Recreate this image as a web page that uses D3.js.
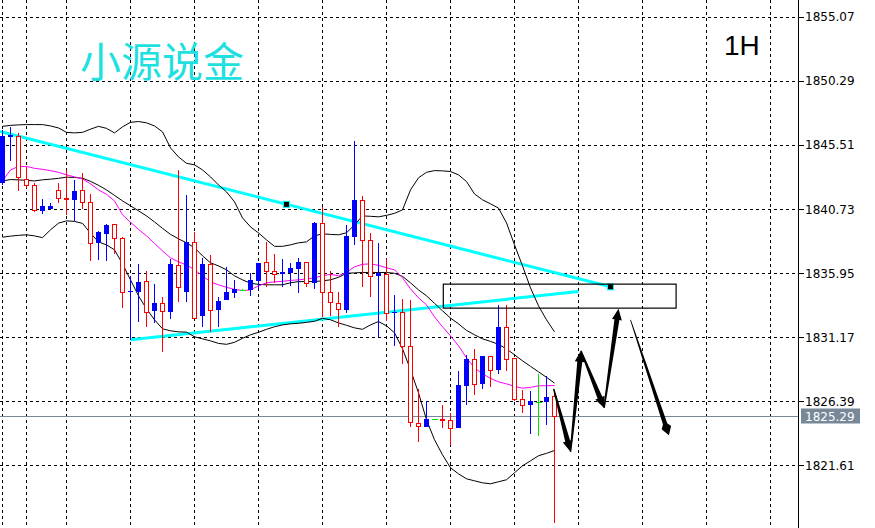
<!DOCTYPE html>
<html><head><meta charset="utf-8">
<script src="https://cdn.jsdelivr.net/npm/d3@7"></script>
<style>html,body{margin:0;padding:0;background:#fff;overflow:hidden}svg{display:block}</style>
</head><body>
<svg id="chart" width="875" height="528"></svg>
<script>
// ---- data (XAUUSD 1H) ----
const opens  = [1842.65,1846.13,1846.18,1842.96,1842.51,1840.61,1840.75,1842.12,1841.56,1841.40,
                1842.12,1841.25,1838.22,1838.89,1839.59,1838.55,1834.57,1834.57,1835.33,1833.12,
                1833.72,1833.07,1836.54,1834.53,1838.28,1832.79,1836.62,1833.19,1833.94,1834.50,
                1834.70,1834.70,1835.40,1836.77,1836.10,1835.85,1835.95,1836.29,1836.77,1835.20,
                1839.68,1834.58,1833.76,1833.21,1838.68,1841.42,1838.43,1835.70,1835.90,1832.94,
                1833.04,1830.55,1824.76,1824.51,1825.06,1825.06,1825.01,1824.40,1827.54,1829.55,
                1827.68,1829.77,1828.73,1831.92,1829.61,1826.57,1826.09,1826.32,1826.32,1826.77];
const highs  = [1846.63,1846.88,1846.38,1843.89,1842.64,1841.47,1841.19,1842.70,1843.64,1842.90,
                1843.39,1841.85,1839.09,1839.61,1839.59,1838.62,1835.75,1836.62,1836.14,1835.14,
                1834.14,1837.01,1843.64,1841.80,1839.00,1837.07,1837.29,1834.16,1836.40,1835.45,
                1834.75,1835.95,1836.70,1838.31,1837.39,1837.02,1836.74,1837.09,1836.77,1839.78,
                1840.92,1836.10,1834.53,1839.55,1845.81,1841.72,1838.98,1838.19,1836.99,1834.34,
                1834.04,1833.96,1827.29,1826.39,1825.06,1826.14,1825.52,1828.62,1829.85,1830.30,
                1829.77,1829.77,1833.58,1833.58,1829.61,1827.26,1827.19,1828.41,1828.27,1827.26];
const lows   = [1842.50,1844.34,1842.10,1842.28,1840.54,1840.36,1840.75,1841.20,1840.28,1839.87,
                1840.73,1836.85,1836.92,1836.85,1837.40,1833.32,1830.96,1832.28,1831.96,1832.20,
                1830.08,1832.51,1833.82,1833.77,1832.51,1831.97,1831.59,1831.92,1833.94,1834.13,
                1834.65,1834.26,1834.70,1834.91,1835.20,1834.95,1835.00,1834.46,1834.95,1834.76,
                1832.71,1832.79,1831.92,1833.01,1838.06,1834.88,1834.20,1831.22,1832.41,1830.53,
                1829.20,1824.51,1823.38,1824.51,1825.06,1824.40,1823.14,1824.40,1826.12,1826.84,
                1827.29,1827.49,1828.41,1828.64,1826.39,1825.49,1823.95,1823.77,1824.62,1817.29];
const closes = [1846.18,1846.26,1843.10,1842.51,1840.66,1840.96,1840.93,1841.53,1841.50,1842.10,
                1841.22,1838.22,1838.99,1839.54,1838.55,1834.57,1834.62,1835.27,1833.02,1833.74,
                1833.10,1836.64,1834.90,1838.31,1832.62,1836.64,1833.19,1833.86,1834.53,1834.76,
                1834.70,1835.45,1836.70,1836.12,1835.90,1836.05,1836.35,1836.79,1835.20,1839.68,
                1834.58,1833.79,1833.29,1838.73,1841.42,1838.43,1835.70,1835.95,1832.97,1833.06,
                1830.55,1824.81,1824.56,1825.06,1825.06,1824.96,1824.40,1827.63,1829.55,1827.71,
                1829.77,1828.73,1831.96,1829.58,1826.57,1826.09,1826.39,1826.32,1826.72,1825.29];
const bbUpper = [1846.90,1846.97,1847.01,1847.03,1847.03,1847.03,1846.93,1846.78,1846.45,1846.41,
                 1846.45,1846.69,1846.90,1846.75,1846.41,1846.86,1847.20,1847.26,1847.16,1846.93,
                 1846.49,1845.29,1844.62,1844.14,1844.03,1843.65,1843.13,1842.53,1842.01,1841.27,
                 1840.07,1839.40,1838.95,1838.43,1837.95,1837.95,1838.06,1838.21,1838.28,1838.73,
                 1838.88,1838.84,1838.81,1838.96,1839.55,1840.22,1840.19,1840.15,1840.26,1840.41,
                 1840.67,1842.16,1843.06,1843.47,1843.60,1843.58,1843.53,1843.28,1842.78,1841.86,
                 1841.42,1841.12,1840.80,1839.70,1838.06,1836.49,1834.85,1833.51,1832.47,1831.57];
const bbMiddle = [1842.83,1842.93,1842.91,1842.87,1842.83,1842.91,1842.96,1843.02,1843.11,1843.09,
                  1843.03,1842.80,1842.50,1842.16,1841.75,1841.34,1840.97,1840.60,1840.22,1839.77,
                  1839.29,1838.84,1838.51,1838.21,1837.84,1837.24,1836.72,1836.49,1836.20,1835.75,
                  1835.45,1835.20,1835.11,1835.08,1835.08,1835.08,1835.23,1835.32,1835.32,1835.32,
                  1835.38,1835.45,1835.64,1835.94,1835.97,1836.00,1836.00,1836.00,1836.00,1835.94,
                  1835.71,1835.23,1834.70,1834.26,1833.70,1833.14,1832.60,1832.17,1831.68,1831.35,
                  1831.05,1830.86,1830.64,1830.30,1829.86,1829.41,1829.00,1828.59,1828.18,1827.75];
const bbLower = [1838.63,1838.71,1838.77,1838.81,1838.73,1838.60,1839.18,1839.68,1839.85,1839.81,
                 1839.66,1838.93,1838.28,1838.06,1837.69,1836.64,1835.45,1834.26,1833.29,1832.47,
                 1831.80,1831.65,1831.57,1831.55,1831.20,1831.05,1830.90,1830.71,1830.64,1830.79,
                 1831.09,1831.35,1831.54,1831.76,1831.95,1832.09,1832.17,1832.21,1832.28,1832.36,
                 1832.58,1832.47,1832.24,1832.06,1831.87,1831.76,1832.09,1832.34,1832.02,1831.50,
                 1830.31,1828.74,1827.02,1825.01,1823.52,1822.40,1821.43,1820.98,1820.61,1820.46,
                 1820.31,1820.24,1820.39,1820.54,1821.06,1821.58,1821.95,1822.33,1822.51,1822.72];
const maLine = [1842.83,1843.65,1843.91,1843.91,1843.77,1843.69,1843.60,1843.47,1843.28,1843.13,
                1842.98,1842.61,1842.16,1841.83,1841.34,1840.30,1839.74,1839.22,1838.73,1838.17,
                1837.61,1837.09,1836.79,1836.57,1836.20,1835.75,1835.30,1835.08,1834.89,1834.74,
                1834.65,1834.70,1835.00,1835.23,1835.30,1835.34,1835.41,1835.45,1835.52,1835.60,
                1835.75,1835.86,1835.75,1836.01,1836.42,1836.61,1836.64,1836.53,1836.35,1836.20,
                1835.60,1834.78,1834.11,1833.59,1832.69,1831.95,1831.27,1830.53,1829.63,1828.89,
                1828.44,1828.10,1827.84,1827.69,1827.51,1827.37,1827.43,1827.55,1827.55,1827.57];
const priceTicks = [1855.07,1850.29,1845.51,1840.73,1835.95,1831.17,1826.39,1821.61];
const gridBars = [0,3,8,16,24,32,40,48,56,64,72,80,88,96];
const lastPrice = 1825.29;
const trendDownBars = [-0.3, 76];
const trendDownPrices = [1846.52, 1834.93];
const trendDownMarkBars = [35.5, 76];
const trendUpBars = [16, 72];
const trendUpPrices = [1830.98, 1834.58];
const zoneBars = [55.1, 84.2];
const zonePrices = [1835.13, 1833.34];
const zigzagBars = [68.9, 71.0, 72.3, 75.2, 77.0];
const zigzagPrices = [1827.32, 1822.62, 1830.16, 1825.90, 1833.29];
const finalBars = [78.5, 83.3];
const finalPrices = [1832.47, 1823.86];
const titleText = "小源说金";
const periodText = "1H";

// ---- scales ----
const W = 875, H = 528, axisX = 798.5;
const x = d3.scaleLinear().domain([0, 100]).range([2.5, 802.5]);
const y = d3.scaleLinear().domain([1821.61, 1855.07]).range([465.4, 16.8]);
const py = v => Math.round(y(v)) + 0.5;
const svg = d3.select("#chart");
svg.append("rect").attr("width", W).attr("height", H).attr("fill", "#fff");

// grid
const grid = svg.append("g").attr("shape-rendering", "crispEdges")
  .attr("stroke", "#000").attr("stroke-width", 1).attr("stroke-dasharray", "3,3");
grid.selectAll("line.h").data(priceTicks).join("line").attr("class", "h")
  .attr("x1", 0).attr("x2", axisX).attr("y1", d => py(d)).attr("y2", d => py(d));
grid.selectAll("line.v").data(gridBars).join("line").attr("class", "v")
  .attr("x1", d => x(d)).attr("x2", d => x(d)).attr("y1", 0).attr("y2", H);

// last price line
svg.append("line").attr("x1", 0).attr("x2", axisX).attr("y1", py(lastPrice)).attr("y2", py(lastPrice))
  .attr("stroke", "#778899").attr("stroke-width", 1).attr("shape-rendering", "crispEdges");

// trend lines
const tl = svg.append("g").attr("stroke", "#00ffff").attr("stroke-width", 3).attr("fill", "none");
tl.append("line").attr("x1", x(trendDownBars[0])).attr("y1", y(trendDownPrices[0]))
  .attr("x2", x(trendDownBars[1])).attr("y2", y(trendDownPrices[1]));
tl.append("line").attr("x1", x(trendUpBars[0])).attr("y1", y(trendUpPrices[0]))
  .attr("x2", x(trendUpBars[1])).attr("y2", y(trendUpPrices[1]));

// indicators
const idx = d3.range(closes.length);
const lineGen = arr => d3.line().x(i => x(i)).y(i => y(arr[i]))(idx);
[[bbUpper, "#000"], [bbMiddle, "#000"], [bbLower, "#000"], [maLine, "#ff00ff"]].forEach(([arr, c]) => {
  svg.append("path").attr("d", lineGen(arr)).attr("fill", "none").attr("stroke", c).attr("stroke-width", 1);
});

// candles
const cg = svg.append("g").attr("shape-rendering", "crispEdges");
idx.forEach(i => {
  const cx = x(i), o = opens[i], c = closes[i], h = highs[i], l = lows[i];
  const yo = Math.round(y(o)), yc = Math.round(y(c)), yh = Math.round(y(h)), yl = Math.round(y(l));
  if (c > o) {
    cg.append("line").attr("x1", cx).attr("x2", cx).attr("y1", yh).attr("y2", yl).attr("stroke", "#0000ff");
    cg.append("rect").attr("x", cx - 2.5).attr("y", yc).attr("width", 5).attr("height", Math.max(1, yo - yc)).attr("fill", "#0000ff");
  } else if (c < o) {
    cg.append("line").attr("x1", cx).attr("x2", cx).attr("y1", yh).attr("y2", yl).attr("stroke", "#ff0000");
    cg.append("rect").attr("x", cx - 2).attr("y", yo + 0.5).attr("width", 4).attr("height", Math.max(1, yc - yo))
      .attr("fill", "#fff").attr("stroke", "#ff0000").attr("stroke-width", 1);
  } else {
    cg.append("line").attr("x1", cx).attr("x2", cx).attr("y1", yh).attr("y2", yl).attr("stroke", "#00e000");
    cg.append("line").attr("x1", cx - 3).attr("x2", cx + 3).attr("y1", yo + 0.5).attr("y2", yo + 0.5).attr("stroke", "#00e000");
  }
});

// trend anchor markers
svg.selectAll("rect.mk").data(trendDownMarkBars).join("rect").attr("class", "mk")
  .attr("x", d => x(d) - 3).attr("y", d => {
    const t = (d - trendDownBars[0]) / (trendDownBars[1] - trendDownBars[0]);
    return y(trendDownPrices[0] + t * (trendDownPrices[1] - trendDownPrices[0])) - 3;
  }).attr("width", 6).attr("height", 6).attr("fill", "#000").attr("stroke", "#00ffff").attr("stroke-width", 1);

// zone rectangle
svg.append("rect").attr("x", x(zoneBars[0])).attr("y", y(zonePrices[0]))
  .attr("width", x(zoneBars[1]) - x(zoneBars[0])).attr("height", y(zonePrices[1]) - y(zonePrices[0]))
  .attr("fill", "none").attr("stroke", "#000").attr("stroke-width", 1.2);

// arrows
function arrow(b0, p0, b1, p1, w0, w1, hl, hw, notch) {
  const x0 = x(b0), y0 = y(p0), x1 = x(b1), y1 = y(p1);
  const dx = x1 - x0, dy = y1 - y0, len = Math.hypot(dx, dy);
  const ux = dx / len, uy = dy / len, nx = -uy, ny = ux;
  const bx = x1 - ux * hl, by = y1 - uy * hl;
  const sx = bx + ux * (notch || 0), sy = by + uy * (notch || 0);
  const pts = [[x0 + nx * w0 / 2, y0 + ny * w0 / 2], [sx + nx * w1 / 2, sy + ny * w1 / 2],
               [bx + nx * hw / 2, by + ny * hw / 2], [x1, y1],
               [bx - nx * hw / 2, by - ny * hw / 2], [sx - nx * w1 / 2, sy - ny * w1 / 2],
               [x0 - nx * w0 / 2, y0 - ny * w0 / 2]];
  svg.append("path").attr("d", "M" + pts.map(p => p.join(",")).join("L") + "Z").attr("fill", "#000");
}
for (let k = 0; k < zigzagBars.length - 1; k++) {
  arrow(zigzagBars[k], zigzagPrices[k], zigzagBars[k + 1], zigzagPrices[k + 1], 1.5, 5, 11, 10, 0);
}
arrow(finalBars[0], finalPrices[0], finalBars[1], finalPrices[1], 0.8, 4.5, 8, 10, -4);

// price axis
svg.append("line").attr("x1", axisX).attr("x2", axisX).attr("y1", 0).attr("y2", H)
  .attr("stroke", "#000").attr("shape-rendering", "crispEdges");
const ax = svg.append("g");
ax.selectAll("line").data(priceTicks).join("line")
  .attr("x1", axisX).attr("x2", axisX + 5).attr("y1", d => py(d)).attr("y2", d => py(d))
  .attr("stroke", "#000").attr("shape-rendering", "crispEdges");
ax.selectAll("text").data(priceTicks).join("text")
  .attr("x", 805).attr("y", d => y(d) + 4.5).text(d => d.toFixed(2))
  .attr("font-family", "DejaVu Sans, sans-serif").attr("font-size", 12).attr("fill", "#000");
svg.append("rect").attr("x", 801).attr("y", Math.round(y(lastPrice)) - 7.5).attr("width", 59).attr("height", 15).attr("fill", "#778899");
svg.append("text").attr("x", 805).attr("y", y(lastPrice) + 4.5).text(lastPrice.toFixed(2))
  .attr("font-family", "DejaVu Sans, sans-serif").attr("font-size", 12).attr("fill", "#fff");

// labels
svg.append("text").attr("x", 80).attr("y", 77).text(titleText)
  .attr("font-family", "Noto Sans CJK SC, sans-serif").attr("font-size", 41).attr("fill", "#1ee0e0");
svg.append("text").attr("x", 724).attr("y", 55).text(periodText)
  .attr("font-family", "Liberation Sans, Arial, sans-serif").attr("font-size", 28).attr("fill", "#000");
</script>
</body></html>
